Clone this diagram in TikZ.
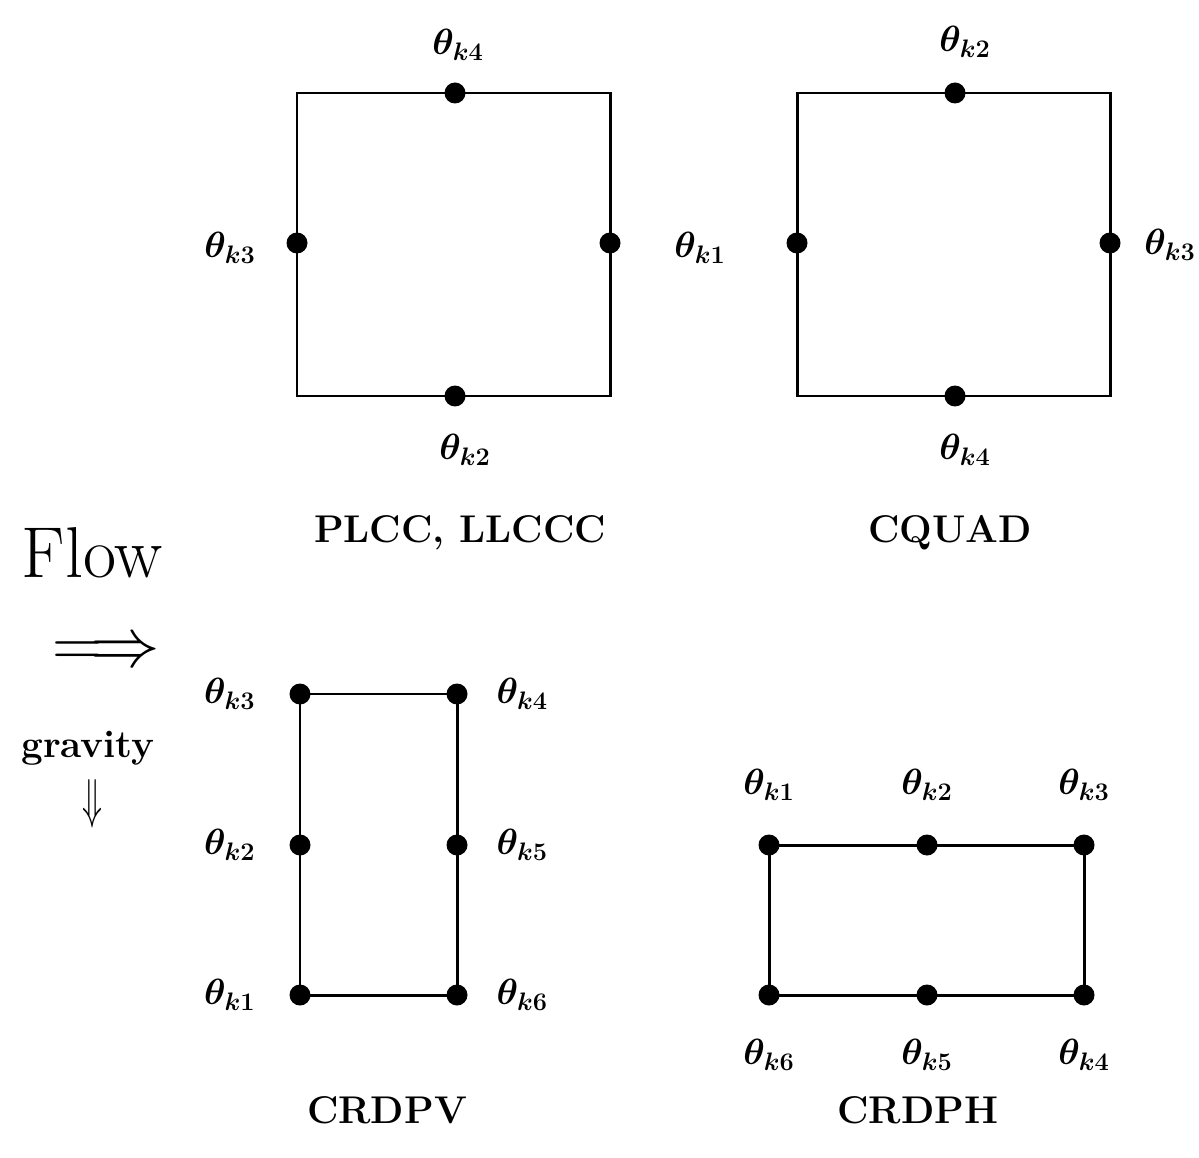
\documentclass[tikz,border=0pt]{standalone}
\usepackage{amsmath,amssymb,bm}
\usetikzlibrary{positioning}
\newcommand{\thk}[1]{$\boldsymbol{\theta_{k#1}}$}

\begin{document}
\begin{tikzpicture}[x=0.02cm,y=-0.02cm,every node/.style={font=\fontsize{21}{24}\selectfont}]
\tikzset{sensor/.style={circle,fill,inner sep=0pt,minimum size=0.42cm},
  wall/.style={line width=1.7pt},
  caption/.style={font=\fontsize{22}{26}\selectfont\bfseries}}
\useasboundingbox (0,0) rectangle (1199,1158);

% PLCC, LLCCC
\coordinate (pa) at (297,93);
\coordinate (pb) at (610,396);
\draw[wall] (pa) rectangle (pb);
\node[sensor] (p4) at (455,93) {};
\node[sensor] (p3) at (297,243) {};
\node[sensor] (p1) at (610,243) {};
\node[sensor] (p2) at (455,396) {};
\node at (458,45) {\thk{4}};
\node at (230,248) {\thk{3}};
\node at (700,248) {\thk{1}};
\node at (465,450) {\thk{2}};
\node[caption] at (460,533) {PLCC, LLCCC};

% CQUAD
\coordinate (qa) at (797,93);
\coordinate (qb) at (1110,396);
\draw[wall] (qa) rectangle (qb);
\node[sensor] (q2) at (955,93) {};
\node[sensor] (q1) at (797,243) {};
\node[sensor] (q3) at (1110,243) {};
\node[sensor] (q4) at (955,396) {};
\node at (965,42) {\thk{2}};
\node at (1170,245) {\thk{3}};
\node at (965,450) {\thk{4}};
\node[caption] at (950,533) {CQUAD};

% flow and gravity
\node[inner sep=0pt,font=\fontsize{41}{44}\selectfont] (flow) at (92,553) {Flow};
\node[inner sep=0pt] (farrow) at (106,654) {\resizebox{2.16cm}{!}{$\Longrightarrow$}};
\node[caption] (grav) at (88,748) {gravity};
\node[inner sep=0pt] (garrow) at (92,804) {\resizebox{0.4cm}{0.76cm}{$\Downarrow$}};

% CRDPV
\node[sensor] (v3) at (300,694) {};
\node[sensor] (v4) at (457,694) {};
\node[sensor] (v2) at (300,845) {};
\node[sensor] (v5) at (457,845) {};
\node[sensor] (v1) at (300,995) {};
\node[sensor] (v6) at (457,995) {};
\draw[wall] (v3.center) -- (v4.center) -- (v5.center) -- (v6.center)
  -- (v1.center) -- (v2.center) -- cycle;
\node[left=0.55cm of v3] {\thk{3}};
\node[right=0.45cm of v4] {\thk{4}};
\node[left=0.55cm of v2] {\thk{2}};
\node[right=0.45cm of v5] {\thk{5}};
\node[left=0.55cm of v1] {\thk{1}};
\node[right=0.45cm of v6] {\thk{6}};
\node[caption] at (387,1110) {CRDPV};

% CRDPH
\node[sensor] (h1) at (769,845) {};
\node[sensor] (h2) at (927,845) {};
\node[sensor] (h3) at (1084,845) {};
\node[sensor] (h6) at (769,995) {};
\node[sensor] (h5) at (927,995) {};
\node[sensor] (h4) at (1084,995) {};
\draw[wall] (h1.center) -- (h2.center) -- (h3.center) -- (h4.center)
  -- (h5.center) -- (h6.center) -- cycle;
\node[above=0.55cm of h1] {\thk{1}};
\node[above=0.55cm of h2] {\thk{2}};
\node[above=0.55cm of h3] {\thk{3}};
\node[below=0.55cm of h6] {\thk{6}};
\node[below=0.55cm of h5] {\thk{5}};
\node[below=0.55cm of h4] {\thk{4}};
\node[caption] at (918,1110) {CRDPH};
\end{tikzpicture}
\end{document}
